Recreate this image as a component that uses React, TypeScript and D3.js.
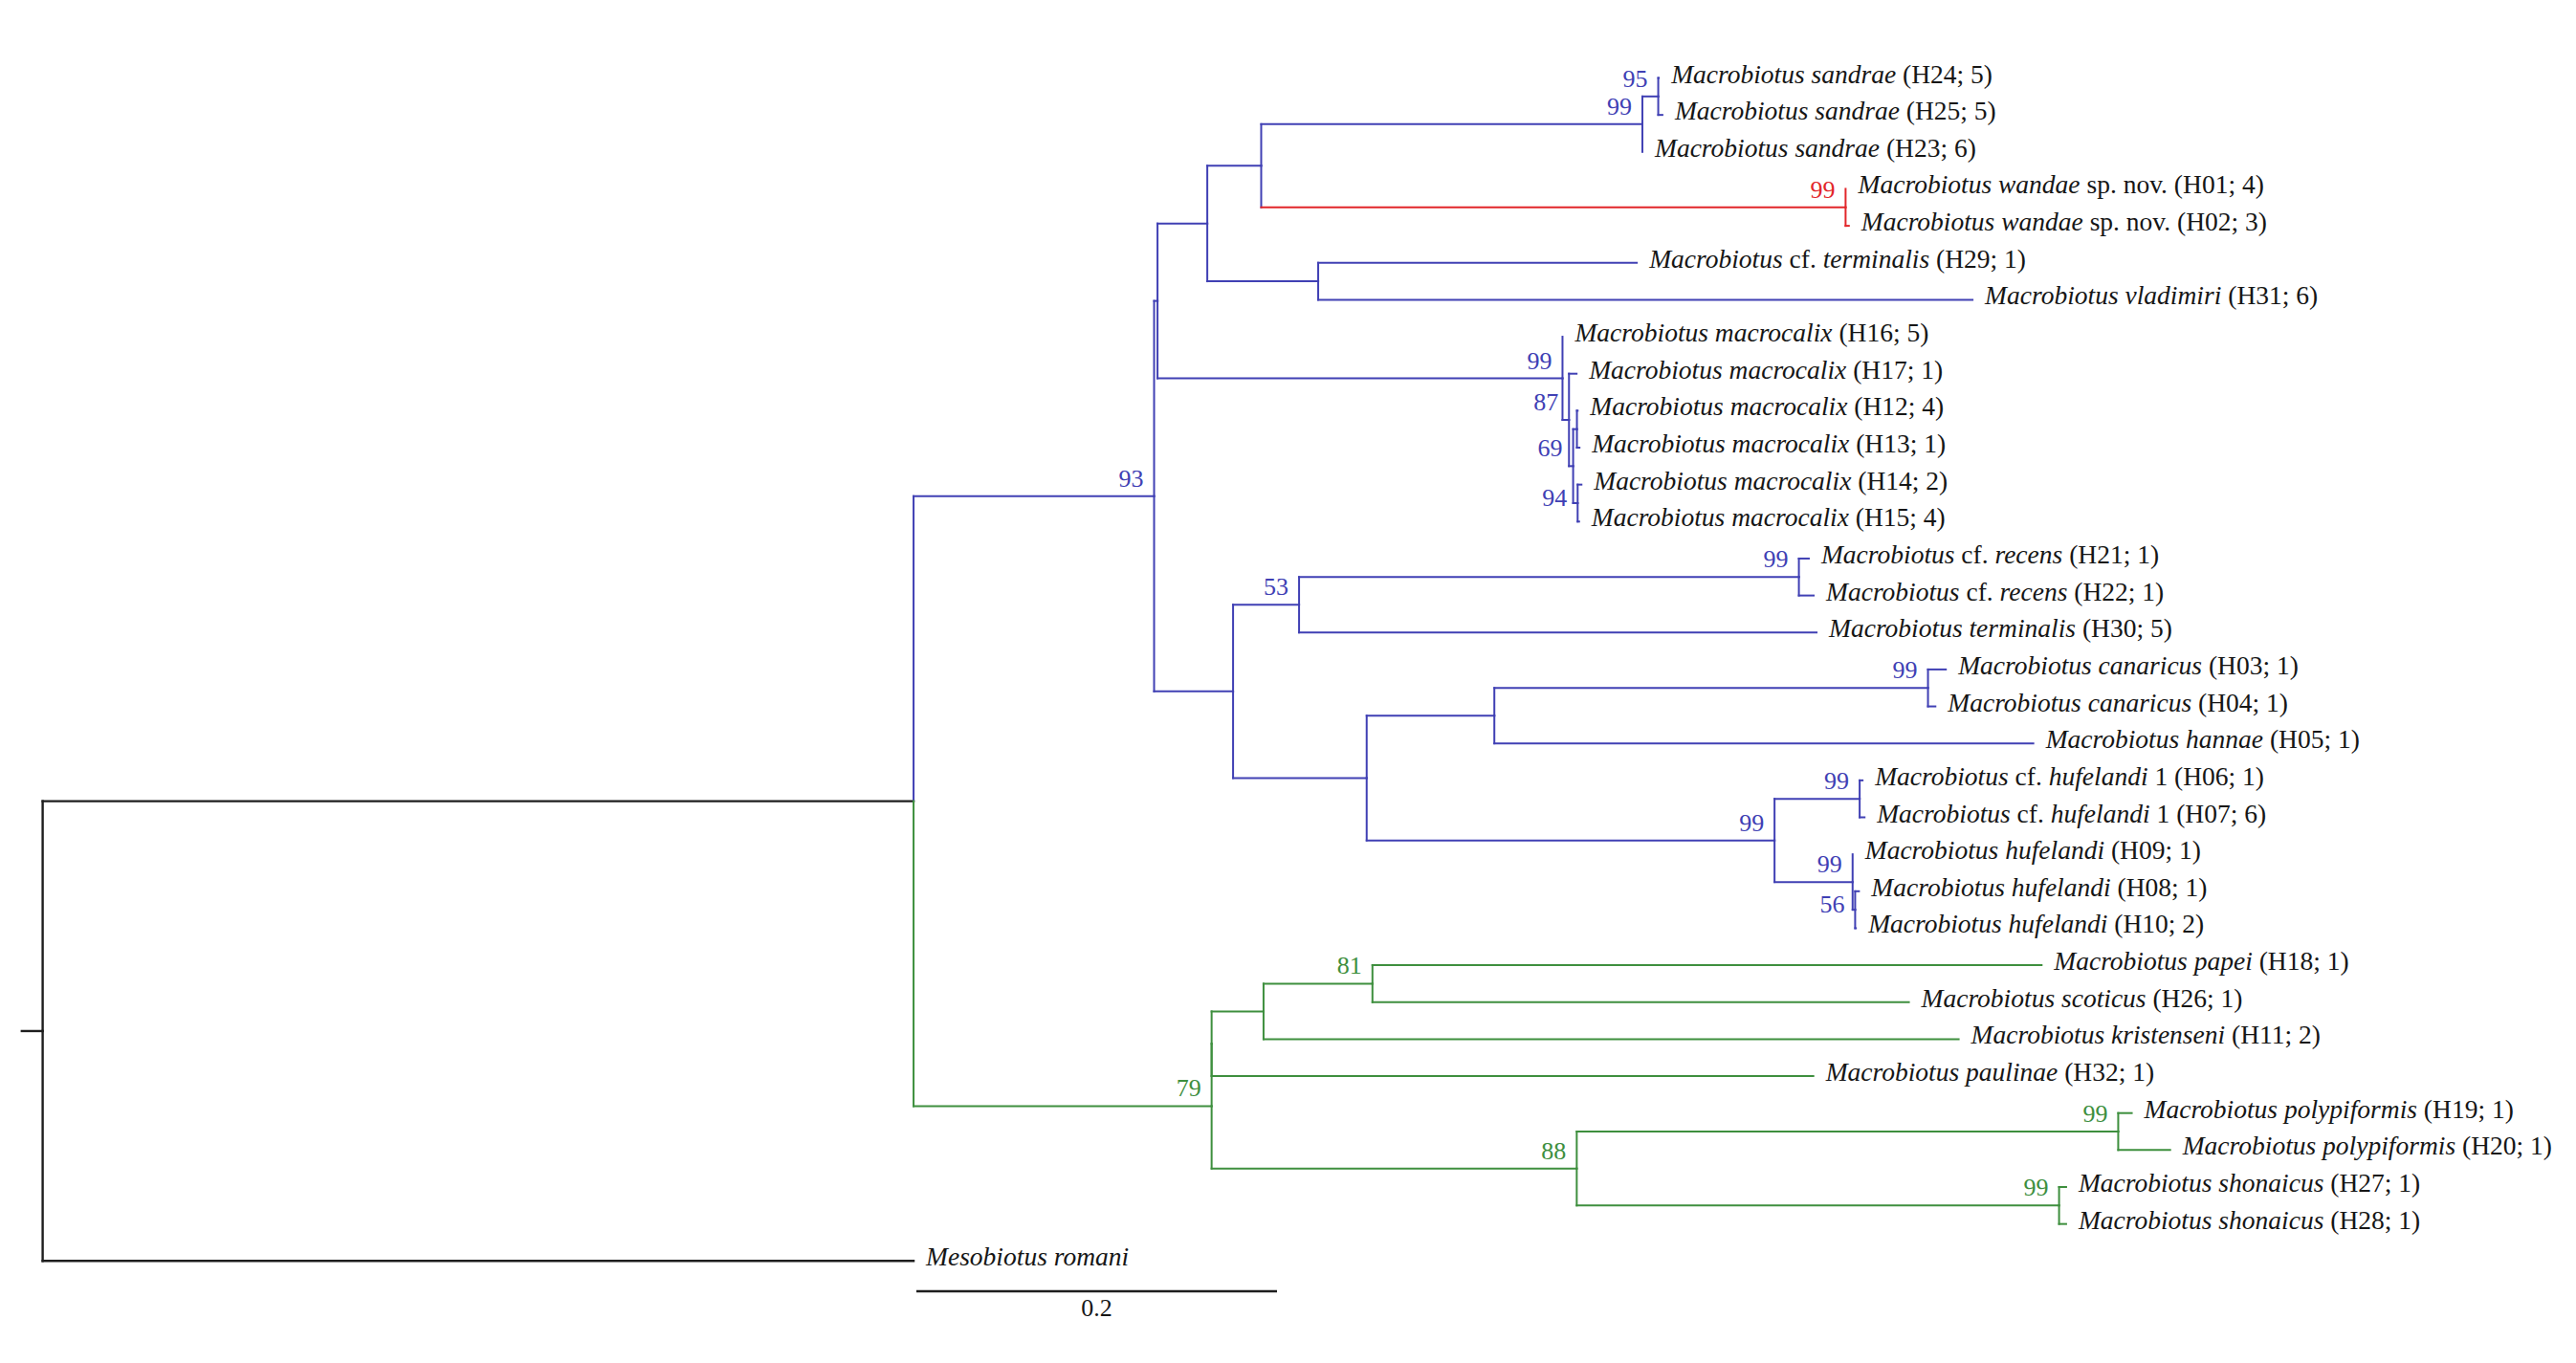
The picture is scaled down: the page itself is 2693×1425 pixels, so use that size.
import React, { useMemo } from "react";
import * as d3 from "d3";

const W = 2693;
const H = 1425;

// ---------- Leaves (top to bottom) ----------
const leafIds = ["H24","H25","H23","H01","H02","H29","H31","H16","H17","H12","H13","H14","H15","H21","H22","H30","H03","H04","H05","H06","H07","H09","H08","H10","H18","H26","H11","H32","H19","H20","H27","H28","OUT"];
const leafGenus = ["Macrobiotus","Macrobiotus","Macrobiotus","Macrobiotus","Macrobiotus","Macrobiotus","Macrobiotus","Macrobiotus","Macrobiotus","Macrobiotus","Macrobiotus","Macrobiotus","Macrobiotus","Macrobiotus","Macrobiotus","Macrobiotus","Macrobiotus","Macrobiotus","Macrobiotus","Macrobiotus","Macrobiotus","Macrobiotus","Macrobiotus","Macrobiotus","Macrobiotus","Macrobiotus","Macrobiotus","Macrobiotus","Macrobiotus","Macrobiotus","Macrobiotus","Macrobiotus","Mesobiotus"];
const leafQualifier = ["","","","","","cf.","","","","","","","","cf.","cf.","","","","","cf.","cf.","","","","","","","","","","","",""];
const leafEpithet = ["sandrae","sandrae","sandrae","wandae","wandae","terminalis","vladimiri","macrocalix","macrocalix","macrocalix","macrocalix","macrocalix","macrocalix","recens","recens","terminalis","canaricus","canaricus","hannae","hufelandi","hufelandi","hufelandi","hufelandi","hufelandi","papei","scoticus","kristenseni","paulinae","polypiformis","polypiformis","shonaicus","shonaicus","romani"];
const leafSuffix = ["","","","sp. nov.","sp. nov.","","","","","","","","","","","","","","","1","1","","","","","","","","","","","",""];
const leafCounts = [5,5,6,4,3,1,6,5,1,4,1,2,4,1,1,5,1,1,1,1,6,1,1,2,1,1,2,1,1,1,1,1,null];

// ---------- Tree topology & branch lengths (substitutions/site) ----------
const nodeIds =      ["root","I","OUT","N93","A","C","D","S99","S95","H24","H25","H23","W99","H01","H02","E","H29","H31","M0","H16","M1","H17","M2","M3","H12","H13","M4","H14","H15","B","N53","R99","H21","H22","H30","F","G","K99","H03","H04","H05","HU","CH","H06","H07","HF","H09","N56","H08","H10","N79","P0","P","N81","H18","H26","H11","H32","N88","PY","H19","H20","SH","H27","H28"];
const nodeParents =  ["","root","root","I","N93","A","C","D","S99","S95","S95","S99","D","W99","W99","C","E","E","A","M0","M0","M1","M1","M2","M3","M3","M2","M4","M4","N93","B","N53","R99","R99","N53","B","F","G","K99","K99","G","F","HU","CH","CH","HU","HF","HF","N56","N56","I","N79","P0","P","N81","N81","P","P0","N79","N88","PY","PY","N88","SH","SH"];
const branchLengths = [0,0.483,0.483,0.1334,0.0019,0.0276,0.0299,0.2114,0.0088,0.0003,0.0023,0.0,0.3241,0.0001,0.0018,0.0615,0.1767,0.3629,0.2246,0.0,0.0036,0.0042,0.0023,0.0021,0.0004,0.0014,0.0025,0.0021,0.0008,0.0438,0.0366,0.2772,0.0055,0.0082,0.287,0.0741,0.0708,0.2405,0.0099,0.0041,0.2989,0.2262,0.0472,0.0016,0.0027,0.0433,0.0,0.0014,0.0021,0.0004,0.1653,0.0,0.0288,0.0604,0.3711,0.2975,0.3855,0.3337,0.2025,0.3003,0.0075,0.0288,0.2675,0.0039,0.0039];

// ---------- Bootstrap support ----------
const bootNodes = ["S95","S99","W99","M0","M1","M2","M4","N93","N53","R99","K99","CH","HU","HF","N56","N81","N79","N88","PY","SH"];
const bootValues = [95,99,99,99,87,69,94,93,53,99,99,99,99,99,56,81,79,88,99,99];

// ---------- Clade colours ----------
const cladeNodes = ["N93","W99","N79"];
const cladeColors = ["#4040b4","#e2262a","#3e8f3e"];
const BASE = "#1e1e1e";

const SCALE_BAR = 0.2;
const FONT = "'Liberation Serif', 'Times New Roman', Times, serif";

export default function App() {
  const layout = useMemo(() => {
    const table = nodeIds.map((id, i) => ({ id, parent: nodeParents[i] || null, bl: branchLengths[i] }));
    const root: any = d3.stratify<any>().id((d: any) => d.id).parentId((d: any) => d.parent)(table);

    const x = d3.scaleLinear().domain([0, 1]).range([44.6, 44.6 + 1885]);
    const y = d3.scaleLinear().domain([0, leafIds.length - 1]).range([81.5, 1318.3]);

    const colorMap = new Map(cladeNodes.map((n, i) => [n, cladeColors[i]]));
    root.eachBefore((n: any) => {
      n.dist = n.parent ? n.parent.dist + n.data.bl : 0;
      n.color = colorMap.get(n.id) ?? (n.parent ? n.parent.color : BASE);
    });
    root.eachAfter((n: any) => {
      if (n.children) {
        const c = n.children;
        n.py = (c[0].py + c[c.length - 1].py) / 2;
      } else {
        n.py = y(leafIds.indexOf(n.id));
      }
      n.px = x(n.dist);
    });

    const segs: any[] = [];
    root.descendants().forEach((n: any) => {
      if (!n.parent) return;
      const p = n.parent;
      const vColor = p.color === BASE ? n.color : p.color;
      if (Math.abs(n.py - p.py) > 0.5) segs.push({ x1: p.px, y1: p.py, x2: p.px, y2: n.py, c: vColor });
      if (Math.abs(n.px - p.px) > 0.5) segs.push({ x1: p.px, y1: n.py, x2: n.px, y2: n.py, c: n.color });
    });

    const nodesById = new Map(root.descendants().map((n: any) => [n.id, n]));
    return { root, x, segs, nodesById, leaves: root.leaves() };
  }, []);

  const { root, x, segs, nodesById, leaves } = layout;
  const barX0 = 958;
  const barLen = x(SCALE_BAR) - x(0);
  const barY = 1350;
  const centered = new Set(["M4", "N56"]);

  return (
    <svg width={W} height={H} style={{ position: "absolute", left: 0, top: 0, background: "#fff" }} fontFamily={FONT}>
      <rect x={0} y={0} width={W} height={H} fill="#fff" />
      {/* root stub */}
      <line x1={root.px - 23} x2={root.px} y1={root.py} y2={root.py} stroke={BASE} strokeWidth={2.4} />
      {segs.map((s: any, i: number) => (
        <line key={i} x1={s.x1} y1={s.y1} x2={s.x2} y2={s.y2} stroke={s.c}
          strokeWidth={s.c === BASE ? 2.4 : 2} strokeLinecap="square" />
      ))}
      {leaves.map((n: any) => {
        const i = leafIds.indexOf(n.id);
        const q = leafQualifier[i];
        const s = leafSuffix[i];
        const cnt = leafCounts[i];
        return (
          <text key={n.id} x={n.px + 13} y={n.py + 5} fontSize={27.5} fill="#161616">
            <tspan fontStyle="italic">{leafGenus[i]}</tspan>
            {q ? <tspan>{" " + q}</tspan> : null}
            <tspan fontStyle="italic">{" " + leafEpithet[i]}</tspan>
            {s ? <tspan>{" " + s}</tspan> : null}
            {cnt != null ? <tspan>{` (${leafIds[i]}; ${cnt})`}</tspan> : null}
          </text>
        );
      })}
      {bootNodes.map((id, i) => {
        const n: any = nodesById.get(id);
        return (
          <text key={"b" + id} x={n.px - 11} y={centered.has(id) ? n.py + 3 : n.py - 10}
            fontSize={26} textAnchor="end" fill={n.color}>
            {bootValues[i]}
          </text>
        );
      })}
      {/* scale bar */}
      <line x1={barX0} x2={barX0 + barLen} y1={barY} y2={barY} stroke={BASE} strokeWidth={2.6} />
      <text x={barX0 + barLen / 2} y={barY + 26} fontSize={26} textAnchor="middle" fill="#161616">{SCALE_BAR}</text>
    </svg>
  );
}
